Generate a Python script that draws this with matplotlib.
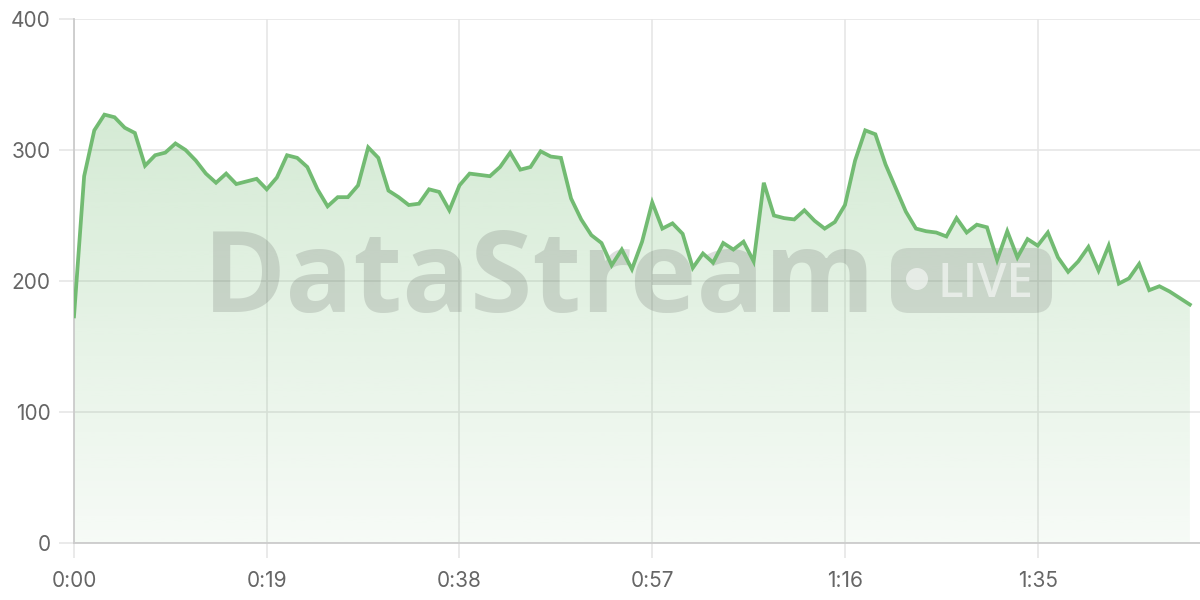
import numpy as np
import matplotlib
matplotlib.use("Agg")
import matplotlib.pyplot as plt
from matplotlib.colors import to_rgb
from matplotlib.patches import FancyBboxPatch, Circle
from matplotlib.transforms import IdentityTransform
from matplotlib.ticker import FuncFormatter

# Values, one sample per second
seconds = list(range(111))
values = [
    173, 280, 315, 327, 325, 317, 313, 288, 296, 298,
    305, 300, 292, 282, 275, 282, 274, 276, 278, 270,
    279, 296, 294, 287, 270, 257, 264, 264, 273, 302,
    294, 269, 264, 258, 259, 270, 268, 254, 273, 282,
    281, 280, 287, 298, 285, 287, 299, 295, 294, 263,
    247, 235, 229, 212, 224, 209, 230, 260, 240, 244,
    236, 210, 221, 214, 229, 224, 230, 215, 275, 250,
    248, 247, 254, 246, 240, 245, 258, 292, 315, 312,
    289, 271, 253, 240, 238, 237, 234, 248, 237, 243,
    241, 216, 238, 218, 232, 227, 237, 218, 207, 215,
    226, 208, 227, 198, 202, 213, 193, 196, 192, 187,
    182,
]
x_ticks = [0, 19, 38, 57, 76, 95]
y_ticks = [0, 100, 200, 300, 400]

line_color = "#72bb72"
grid_color = "#e6e6e6"
label_color = "#666666"
mark_color = "#404040"

plt.rcParams["font.family"] = ["Inter", "DejaVu Sans"]

fig = plt.figure(figsize=(12, 6), dpi=100)
ax = fig.add_axes([74 / 1200, 57 / 600, 1126 / 1200, 524 / 600])

x = np.array(seconds)
y = np.array(values)

# gradient fill under the line
fill = ax.fill_between(x, y, 0, color="none", lw=0)
rgb = to_rgb(line_color)
grad = np.zeros((256, 1, 4))
grad[:, 0, :3] = rgb
grad[:, 0, 3] = np.linspace(0.06, 0.30, 256)
img = ax.imshow(grad, aspect="auto", origin="lower",
                extent=[x.min(), x.max(), 0, max(values)], zorder=1)
img.set_clip_path(fill.get_paths()[0], transform=ax.transData)

ax.plot(x, y, color=line_color, lw=2.7, zorder=4, solid_joinstyle="miter")

ax.set_xlim(0, 111)
ax.set_ylim(0, 400)
ax.set_xticks(x_ticks)
ax.set_yticks(y_ticks)
ax.xaxis.set_major_formatter(FuncFormatter(lambda v, p: f"{int(v) // 60}:{int(v) % 60:02d}"))

ax.grid(True, color=grid_color, lw=1.2, zorder=0)
ax.set_axisbelow(True)
for side in ["top", "right"]:
    ax.spines[side].set_visible(False)
for side in ["left", "bottom"]:
    ax.spines[side].set_color("#cccccc")
    ax.spines[side].set_linewidth(1.3)
ax.tick_params(axis="both", colors=grid_color, length=11, width=1.2,
               labelcolor=label_color, labelsize=15)
ax.tick_params(axis="y", pad=6)
ax.tick_params(axis="x", pad=9)

# watermark (pixel positions, behind the line)
ax.text(0.449, 0.48, "DataStream", transform=fig.transFigure,
        fontsize=81, fontweight="bold", family=["Open Sans", "DejaVu Sans"],
        color=mark_color, alpha=0.17, ha="center", va="baseline", zorder=2)
badge = FancyBboxPatch((891, 287), 161, 65, boxstyle="round,pad=0,rounding_size=18",
                       transform=IdentityTransform(), fc=mark_color, ec="none",
                       alpha=0.15, zorder=2)
ax.add_artist(badge)
dot = Circle((917, 321), 11, transform=IdentityTransform(), fc="white",
             ec="none", alpha=0.55, zorder=3)
ax.add_artist(dot)
ax.text(937, 303, "LIVE", transform=IdentityTransform(), fontsize=34,
        fontweight="semibold", family=["Open Sans", "DejaVu Sans"],
        color="white", alpha=0.55, ha="left", va="baseline", zorder=3)

fig.savefig("out.png", dpi=100)
